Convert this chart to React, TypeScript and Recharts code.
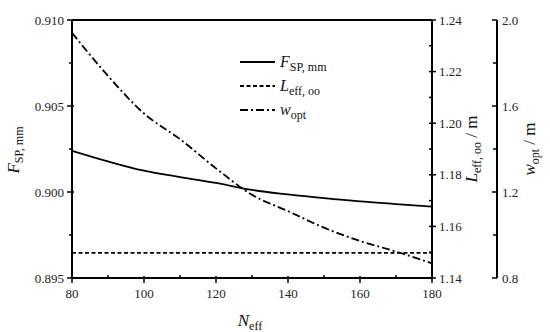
import React from "react";
import { LineChart, Line, XAxis, YAxis, ReferenceLine, Customized } from "recharts";

const N_EFF = [80, 90, 100, 110, 120, 130, 140, 150, 160, 170, 180];
const F_SP = [0.9024, 0.90178, 0.90124, 0.90087, 0.90053, 0.90012, 0.89986, 0.89964, 0.89945, 0.8993, 0.89915];
const L_EFF = [1.1497, 1.1497, 1.1497, 1.1497, 1.1497, 1.1497, 1.1497, 1.1497, 1.1497, 1.1497, 1.1497];
const W_OPT = [1.94, 1.74, 1.565, 1.446, 1.31, 1.187, 1.111, 1.034, 0.972, 0.923, 0.868];

const X_TICKS = [80, 90, 100, 110, 120, 130, 140, 150, 160, 170, 180];
const F_TICKS = [0.895, 0.8975, 0.9, 0.9025, 0.905, 0.9075, 0.91];
const L_TICKS = [1.14, 1.15, 1.16, 1.17, 1.18, 1.19, 1.2, 1.21, 1.22, 1.23, 1.24];
const W_TICKS = [0.8, 1.0, 1.2, 1.4, 1.6, 1.8, 2.0];

const data = N_EFF.map((n, i) => ({ n, f: F_SP[i], l: L_EFF[i], w: W_OPT[i] }));

const FONT = '"Liberation Serif", "Times New Roman", serif';
const TICK_FS = 13;
const LABEL_FS = 17;
const SUB_FS = 12;

const XTick = (props: any) => {
  const { x, y, payload } = props;
  const v = payload.value;
  const major = Math.round(v) % 20 === 0;
  return (
    <g>
      <line x1={x} x2={x} y1={major ? y - 2 : y - 3} y2={major ? y + 5 : y} stroke="#000" strokeWidth={1.5} />
      {major && (
        <text x={x} y={y + 20} textAnchor="middle" fontSize={TICK_FS} fontFamily={FONT} fill="#222">
          {v}
        </text>
      )}
    </g>
  );
};

const FTick = (props: any) => {
  const { x, y, payload } = props;
  const v = payload.value;
  const major = Math.round(v * 10000) % 50 === 0;
  return (
    <g>
      <line x1={major ? x - 5 : x - 3} x2={major ? x + 2 : x} y1={y} y2={y} stroke="#000" strokeWidth={1.5} />
      {major && (
        <text x={x - 8} y={y + 4.5} textAnchor="end" fontSize={TICK_FS} fontFamily={FONT} fill="#222">
          {v.toFixed(3)}
        </text>
      )}
    </g>
  );
};

const LTick = (props: any) => {
  const { x, y, payload } = props;
  const v = payload.value;
  const major = Math.round(v * 100) % 2 === 0;
  return (
    <g>
      <line x1={x - 3} x2={major ? x + 4 : x + 1} y1={y} y2={y} stroke="#000" strokeWidth={1.5} />
      {major && (
        <text x={x + 7} y={y + 4.5} textAnchor="start" fontSize={TICK_FS} fontFamily={FONT} fill="#222">
          {v.toFixed(2)}
        </text>
      )}
    </g>
  );
};

const WTick = (props: any) => {
  const { x, y, payload } = props;
  const v = payload.value;
  const major = Math.round(v * 10) % 4 === 0;
  return (
    <g>
      <line x1={major ? x - 5 : x - 4} x2={x} y1={y} y2={y} stroke="#000" strokeWidth={1.5} />
      {major && (
        <text x={x + 5} y={y + 4.5} textAnchor="start" fontSize={TICK_FS} fontFamily={FONT} fill="#222">
          {v.toFixed(1)}
        </text>
      )}
    </g>
  );
};

const Overlay = () => {
  const legendRows = [
    { y: 62, dash: undefined as string | undefined, main: "F", sub: "SP, mm" },
    { y: 86, dash: "4 2.5", main: "L", sub: "eff, oo" },
    { y: 110, dash: "8 3 2 3", main: "w", sub: "opt" },
  ];
  return (
    <g fontFamily={FONT} fill="#111">
      <text transform="rotate(-90, 19, 150)" x={19} y={150} textAnchor="middle" fontSize={LABEL_FS}>
        <tspan fontStyle="italic">F</tspan>
        <tspan fontSize={SUB_FS} dy={4}>SP, mm</tspan>
      </text>
      <text transform="rotate(-90, 477, 149)" x={477} y={149} textAnchor="middle" fontSize={LABEL_FS}>
        <tspan fontStyle="italic">L</tspan>
        <tspan fontSize={SUB_FS} dy={4}>eff, oo</tspan>
        <tspan dy={-4}> / m</tspan>
      </text>
      <text transform="rotate(-90, 535, 149)" x={535} y={149} textAnchor="middle" fontSize={LABEL_FS}>
        <tspan fontStyle="italic">w</tspan>
        <tspan fontSize={SUB_FS} dy={4}>opt</tspan>
        <tspan dy={-4}> / m</tspan>
      </text>
      <text x={250} y={326} textAnchor="middle" fontSize={LABEL_FS}>
        <tspan fontStyle="italic">N</tspan>
        <tspan fontSize={SUB_FS} dy={4}>eff</tspan>
      </text>
      {legendRows.map((r) => (
        <g key={r.main}>
          <line x1={240} x2={275} y1={r.y} y2={r.y} stroke="#000" strokeWidth={1.8} strokeDasharray={r.dash} />
          <text x={280} y={r.y + 5} fontSize={16}>
            <tspan fontStyle="italic">{r.main}</tspan>
            <tspan fontSize={SUB_FS} dy={4}>{r.sub}</tspan>
          </text>
        </g>
      ))}
    </g>
  );
};

export default function App() {
  const axisLine = { stroke: "#000", strokeWidth: 2 };
  return (
    <div style={{ position: "absolute", left: 0, top: 0, width: 550, height: 332, background: "#fff" }}>
      <LineChart width={550} height={332} data={data} margin={{ top: 20, right: 0, bottom: 0, left: 0 }}>
        <XAxis
          dataKey="n"
          type="number"
          domain={[80, 180]}
          ticks={X_TICKS}
          interval={0}
          height={54}
          axisLine={axisLine}
          tickLine={false}
          tickSize={0}
          tickMargin={0}
          tick={<XTick />}
          allowDataOverflow
        />
        <YAxis
          yAxisId="left"
          orientation="left"
          type="number"
          domain={[0.895, 0.91]}
          ticks={F_TICKS}
          interval={0}
          width={72}
          axisLine={axisLine}
          tickLine={false}
          tickSize={0}
          tickMargin={0}
          tick={<FTick />}
          allowDataOverflow
        />
        <YAxis
          yAxisId="L"
          orientation="right"
          type="number"
          domain={[1.14, 1.24]}
          ticks={L_TICKS}
          interval={0}
          width={65}
          axisLine={axisLine}
          tickLine={false}
          tickSize={0}
          tickMargin={0}
          tick={<LTick />}
          allowDataOverflow
        />
        <YAxis
          yAxisId="W"
          orientation="right"
          type="number"
          domain={[0.8, 2.0]}
          ticks={W_TICKS}
          interval={0}
          width={53}
          axisLine={axisLine}
          tickLine={false}
          tickSize={0}
          tickMargin={0}
          tick={<WTick />}
          allowDataOverflow
        />
        <ReferenceLine yAxisId="left" y={0.91} stroke="#000" strokeWidth={2} />
        <Line yAxisId="left" dataKey="f" type="monotone" stroke="#000" strokeWidth={1.8} dot={false} isAnimationActive={false} />
        <Line yAxisId="L" dataKey="l" type="linear" stroke="#000" strokeWidth={1.8} strokeDasharray="4 2.5" dot={false} isAnimationActive={false} />
        <Line yAxisId="W" dataKey="w" type="monotone" stroke="#000" strokeWidth={1.8} strokeDasharray="8 3 2 3" dot={false} isAnimationActive={false} />
        <Customized component={<Overlay />} />
      </LineChart>
    </div>
  );
}
